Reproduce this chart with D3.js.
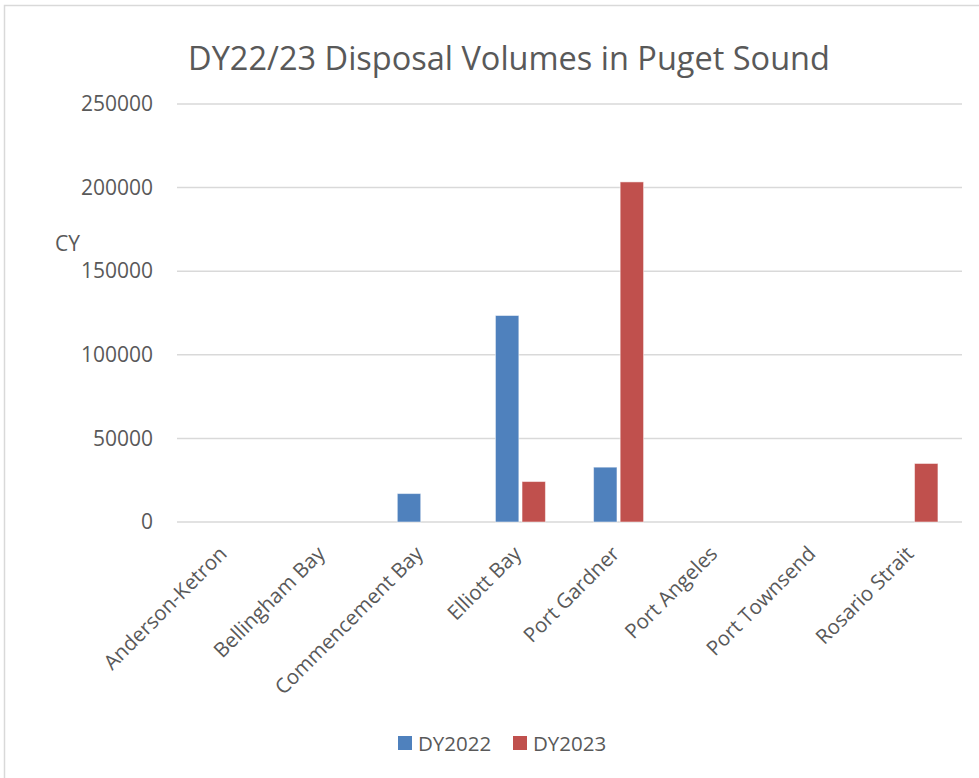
<!DOCTYPE html>
<html>
<head>
<meta charset="utf-8">
<script src="https://cdn.jsdelivr.net/npm/d3@7"></script>
<style>
	body { margin: 0; background: #fff; }
	svg text { font-family: "Open Sans", "Noto Sans", sans-serif; fill: #595959; }
</style>
</head>
<body>
<div id="chart"></div>
<script>
// data
const sites = ["Anderson-Ketron", "Bellingham Bay", "Commencement Bay", "Elliott Bay",
	"Port Gardner", "Port Angeles", "Port Townsend", "Rosario Strait"];
const dy2022 = [0, 0, 17000, 123500, 32800, 0, 0, 0];
const dy2023 = [0, 0, 0, 24200, 203400, 0, 0, 35000];
const seriesNames = ["DY2022", "DY2023"];
const seriesColors = ["#4f81bd", "#c0504d"];
const yTicks = [0, 50000, 100000, 150000, 200000, 250000];

const width = 979, height = 778;
const plot = { left: 177, right: 962, top: 104, bottom: 522 };

let svg = d3.select("#chart").append("svg")
	.attr("width", width)
	.attr("height", height)

// outer chart frame
svg.append("rect")
	.attr("x", 4.5).attr("y", 5.5)
	.attr("width", width + 10).attr("height", height + 10)
	.attr("fill", "none")
	.attr("stroke", "#d9d9d9")
	.attr("stroke-width", 1.5)

let x = d3.scaleBand()
	.domain(sites)
	.range([plot.left, plot.right])

let y = d3.scaleLinear()
	.domain([0, 250000])
	.range([plot.bottom, plot.top])

// gridlines
svg.append("g")
	.selectAll("line")
	.data(yTicks)
	.enter().append("line")
	.attr("x1", plot.left).attr("x2", plot.right)
	.attr("y1", d => y(d)).attr("y2", d => y(d))
	.attr("stroke", "#d9d9d9")
	.attr("stroke-width", 1.5)

// y axis labels
let yAxis = svg.append("g")
	.attr("transform", `translate(${plot.left - 24},0)`)
	.call(d3.axisLeft(y).tickValues(yTicks).tickSize(0).tickPadding(0).tickFormat(d3.format("d")))
yAxis.select(".domain").remove()
yAxis.selectAll("text")
	.style("font-size", "21px")
	.attr("fill", "#595959")

svg.append("text")
	.attr("x", 55).attr("y", 251)
	.style("font-size", "21px")
	.text("CY")

// bars
const barW = 22, gap = 6;
let x1 = d3.scaleBand()
	.domain([0, 1])
	.range([-(barW + gap / 2), barW + gap / 2])
	.paddingInner(gap / (2 * barW + gap))

let rows = sites.map((s, i) => [dy2022[i], dy2023[i]]);

svg.append("g")
	.selectAll("g")
	.data(rows)
	.enter().append("g")
	.attr("transform", (d, i) => `translate(${x(sites[i]) + x.bandwidth() / 2},0)`)
	.selectAll("rect")
	.data(d => d.map((v, k) => ({ v, k })).filter(e => e.v > 0))
	.enter().append("rect")
	.attr("x", d => x1(d.k))
	.attr("width", x1.bandwidth())
	.attr("y", d => y(d.v))
	.attr("height", d => plot.bottom - y(d.v))
	.attr("fill", d => seriesColors[d.k])
	.attr("stroke", "#ffffff")
	.attr("stroke-opacity", 0.5)
	.attr("stroke-width", 1)

// x axis labels, rotated
svg.append("g")
	.selectAll("text")
	.data(sites)
	.enter().append("text")
	.attr("transform", d => `translate(${x(d) + x.bandwidth() / 2 + 2},${plot.bottom + 33}) rotate(-45)`)
	.attr("text-anchor", "end")
	.style("font-size", "20.5px")
	.text(d => d)

// title
svg.append("text")
	.attr("x", 509).attr("y", 70)
	.attr("text-anchor", "middle")
	.style("font-size", "32.5px")
	.text("DY22/23 Disposal Volumes in Puget Sound")

// legend
let legend = svg.append("g")
	.selectAll("g")
	.data(seriesNames)
	.enter().append("g")
	.attr("transform", (d, i) => `translate(${398 + i * 115},736)`)
legend.append("rect")
	.attr("width", 14).attr("height", 14)
	.attr("fill", (d, i) => seriesColors[i])
legend.append("text")
	.attr("x", 20).attr("y", 14.5)
	.style("font-size", "20.5px")
	.text(d => d)
</script>
</body>
</html>
